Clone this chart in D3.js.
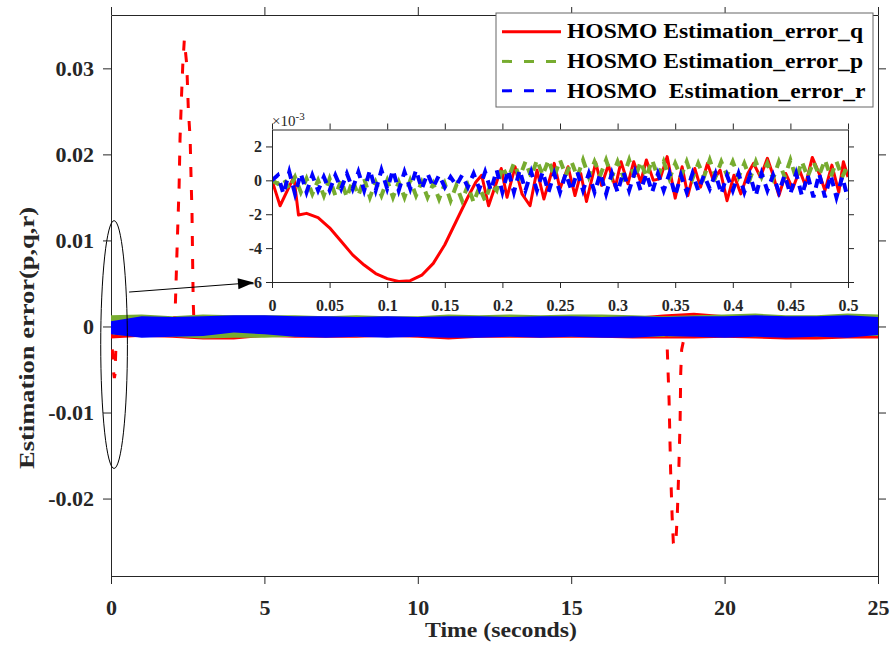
<!DOCTYPE html>
<html><head><meta charset="utf-8">
<script src="https://cdn.jsdelivr.net/npm/d3@7/dist/d3.min.js"></script>
<style>
html,body{margin:0;padding:0;background:#fff;}
svg{display:block;}
svg text{font-family:"Liberation Serif","Times New Roman",serif !important;}
</style></head>
<body>
<svg id="chart" width="893" height="646"></svg>
<script>
// ---------------- DATA ----------------
const seriesNames = ["HOSMO Estimation_error_q", "HOSMO Estimation_error_p", "HOSMO  Estimation_error_r"];
const seriesColors = ["#ff0000", "#77ac30", "#0000ff"];

const xTicks = [0, 5, 10, 15, 20, 25];
const xTickLabels = ["0", "5", "10", "15", "20", "25"];
const yTicks = [-0.02, -0.01, 0, 0.01, 0.02, 0.03];
const yTickLabels = ["-0.02", "-0.01", "0", "0.01", "0.02", "0.03"];

// main plot: envelope of the dense chattering band (x1e-3), sampled every 1 s, t = 0..25
const bandT = [0,1,2,3,4,5,6,7,8,9,10,11,12,13,14,15,16,17,18,19,20,21,22,23,24,25];
const qTop = [1.0,1.1,1.0,1.1,1.0,1.1,1.0,1.1,1.0,1.1,1.0,1.1,1.0,1.1,1.0,1.1,1.0,1.1,1.4,1.6,1.3,1.2,1.1,1.2,1.1,1.0];
const qBot = [-1.4,-1.2,-1.3,-1.5,-1.5,-1.2,-1.3,-1.3,-1.3,-1.2,-1.3,-1.5,-1.3,-1.3,-1.3,-1.3,-1.3,-1.4,-1.4,-1.4,-1.3,-1.4,-1.5,-1.5,-1.4,-1.4];
const pTop = [1.3,1.4,1.2,1.4,1.3,1.3,1.3,1.2,1.3,1.2,1.2,1.4,1.3,1.4,1.3,1.4,1.4,1.3,1.2,1.3,1.4,1.5,1.3,1.3,1.5,1.4];
const pBot = [-1.0,-1.1,-1.2,-1.4,-1.3,-1.3,-1.2,-1.1,-1.2,-1.2,-1.1,-1.1,-1.2,-1.2,-1.1,-1.2,-1.1,-1.2,-1.2,-1.1,-1.2,-1.2,-1.1,-1.2,-1.1,-1.1];
const rTop = [0.6,1.2,1.1,1.2,1.3,1.3,1.2,1.2,1.1,1.2,1.1,1.2,1.2,1.1,1.2,1.2,1.1,1.2,1.1,1.2,1.2,1.3,1.2,1.2,1.3,1.1];
const rBot = [-0.9,-1.3,-1.2,-1.1,-0.7,-0.9,-1.2,-1.3,-1.2,-1.3,-1.2,-1.3,-1.3,-1.2,-1.3,-1.2,-1.3,-1.3,-1.1,-1.2,-1.3,-1.2,-1.3,-1.2,-1.3,-1.0];

// main plot: large excursions of error_q (x1e-3)
const qDipT = [0, 0.03, 0.06, 0.09, 0.11, 0.13, 0.16, 0.19];
const qDipV = [0, -2.0, -3.6, -5.5, -6.0, -5.6, -2.4, 0];
const qSpikeT = [2.05, 2.09, 2.12, 2.17, 2.22, 2.25, 2.30, 2.34, 2.39, 2.47, 2.52, 2.58, 2.61, 2.64, 2.66, 2.68, 2.71];
const qSpikeV = [0, 1.6, 5.1, 10.9, 16.3, 21.8, 26.9, 30.4, 33.3, 30.4, 25.3, 21.8, 17.2, 13.3, 7.8, 2.8, 0];
const qDip2T = [18.10, 18.13, 18.19, 18.24, 18.29, 18.33, 18.37, 18.42, 18.46, 18.51, 18.55, 18.57, 18.60, 18.68, 18.72];
const qDip2V = [0, -2.5, -8.5, -16.7, -22.1, -25.2, -25.5, -24.5, -21.7, -16.3, -10.9, -5.4, -2.7, -1.3, 0];

// inset (zoom 0..0.5 s, x1e-3)
const insetXTicks = [0, 0.05, 0.1, 0.15, 0.2, 0.25, 0.3, 0.35, 0.4, 0.45, 0.5];
const insetXTickLabels = ["0", "0.05", "0.1", "0.15", "0.2", "0.25", "0.3", "0.35", "0.4", "0.45", "0.5"];
const insetYTicks = [-6, -4, -2, 0, 2];
const insetYTickLabels = ["-6", "-4", "-2", "0", "2"];

const insetQT = [0,0.007,0.019,0.023,0.030,0.040,0.050,0.060,0.070,0.080,0.090,0.100,0.110,0.120,0.130,0.140,0.150,0.160,0.170,0.177,0.182,0.188,0.199,0.204,0.211,0.217,0.224,0.230,0.236,0.245,0.250,0.257,0.263,0.268,0.273,0.281,0.286,0.292,0.298,0.303,0.309,0.314,0.320,0.325,0.331,0.337,0.343,0.350,0.356,0.361,0.367,0.372,0.378,0.383,0.389,0.395,0.401,0.407,0.413,0.418,0.424,0.430,0.435,0.440,0.446,0.452,0.458,0.463,0.469,0.475,0.480,0.486,0.492,0.496,0.500];
const insetQV = [0,-1.5,0.2,-2.05,-1.95,-2.2,-2.8,-3.6,-4.4,-5.0,-5.5,-5.8,-5.97,-5.92,-5.6,-4.9,-3.8,-2.4,-1.0,-0.1,0.3,-1.5,0.7,-1.0,0.8,-0.8,-1.5,0.6,-1.1,1.0,-0.5,0.8,-0.9,0.4,-1.25,1.05,-0.3,0.9,-0.4,1.1,-0.2,1.1,-0.1,1.2,0.0,0.1,1.4,-1.05,0.8,-0.9,0.7,-0.4,1.0,0.0,0.6,-1.2,0.3,-0.8,0.4,1.0,0.2,1.3,0.3,-0.9,0.4,-0.5,0.6,-0.3,1.35,0.4,-0.6,0.9,-0.7,1.1,0.2];

// p and r sampled every 0.005 s, t = 0..0.5
const insetPV = [0,-0.2,0.1,-0.5,0.2,-0.7,0.1,-0.8,0.0,-0.9,0.1,-0.9,0.0,-1.0,0.0,-0.9,0.1,-1.0,-0.1,-0.9,
  0.0,-1.0,-0.1,-1.0,0.0,-0.9,-0.1,-1.0,-0.2,-1.1,-0.2,-1.2,-0.3,-1.2,-0.3,-1.3,-0.4,-1.2,-0.2,-0.6,
  0.8,0.1,1.0,0.2,1.1,0.2,1.2,0.3,1.2,0.2,1.2,0.3,1.1,0.2,1.2,0.2,1.1,0.3,1.2,0.2,
  1.1,0.2,1.2,0.1,1.1,0.2,1.2,0.2,1.1,0.1,1.0,0.2,1.1,0.1,1.0,0.2,1.2,0.2,1.1,0.3,
  1.1,0.2,1.0,0.1,1.1,0.2,1.0,0.1,1.1,0.2,1.2,0.1,1.1,0.2,1.1,0.3,1.2,0.2,1.1,0.2,0.9];
const insetRV = [0,0.3,-0.8,0.5,-0.8,0.4,-0.7,0.3,-0.6,0.2,-0.6,0.3,-0.5,0.4,-0.5,0.5,-0.6,0.6,-0.6,0.6,
  -0.5,0.6,-0.6,0.5,-0.5,0.6,-0.5,0.4,-0.4,0.3,-0.4,0.2,-0.3,0.3,-0.4,0.4,-0.5,0.5,-0.6,0.6,
  -0.7,0.6,-0.7,0.6,-0.6,0.5,-0.6,0.5,-0.7,0.4,-0.7,0.4,-0.6,0.5,-0.6,0.4,-0.7,0.4,-0.8,0.4,
  -0.7,0.5,-0.6,0.5,-0.6,0.4,-0.7,0.4,-0.6,0.4,-0.9,0.3,-0.7,0.4,-0.6,0.3,-0.5,0.4,-0.8,0.3,
  -0.6,0.4,-0.7,0.3,-0.9,0.4,-0.6,0.3,-0.7,0.3,-0.8,0.4,-0.9,0.3,-1.0,0.4,-1.0,0.3,-1.0,0.2,-1.1];
const insetStep = 0.005;

// annotation (data units of the main axes)
const ellipseC = {t: 0.1, v: -0.0021};
const ellipseHalf = {t: 0.435, v: 0.0144};
const arrowFrom = {t: 0.59, v: 0.0040};
const arrowTo = {t: 4.66, v: 0.0051};

// ---------------- DRAW ----------------
const svg = d3.select("#chart");
const AX = "#262626";
const FONT = '"Liberation Serif","Times New Roman",serif';

const M = {l: 111, r: 878, t: 15, b: 576};
const x = d3.scaleLinear().domain([0, 25]).range([M.l, M.r]);
const y = d3.scaleLinear().domain([-0.029, 0.0362]).range([M.b, M.t]);

svg.append("defs").append("clipPath").attr("id", "mainclip")
  .append("rect").attr("x", M.l).attr("y", M.t).attr("width", M.r - M.l).attr("height", M.b - M.t);

function styleAxis(g, fs) {
  g.attr("font-family", null);
  g.selectAll("path.domain").attr("stroke", AX).attr("stroke-width", 1);
  g.selectAll(".tick line").attr("stroke", AX).attr("stroke-width", 1);
  g.selectAll(".tick text").style("font-family", FONT).style("font-weight", "bold")
    .style("font-size", fs + "px").attr("fill", AX);
}

// main axes
const gx = svg.append("g").attr("transform", `translate(0,${M.b})`)
  .call(d3.axisBottom(x).tickValues(xTicks).tickSize(8).tickSizeOuter(0).tickPadding(15)
    .tickFormat((d, i) => xTickLabels[i]));
styleAxis(gx, 22);
gx.selectAll(".tick text").attr("dy", "0.71em");
const gxt = svg.append("g").attr("transform", `translate(0,${M.t})`)
  .call(d3.axisTop(x).tickValues(xTicks).tickSize(8).tickSizeOuter(0).tickFormat(""));
styleAxis(gxt, 22);
const gy = svg.append("g").attr("transform", `translate(${M.l},0)`)
  .call(d3.axisLeft(y).tickValues(yTicks).tickSize(8).tickSizeOuter(0).tickPadding(9)
    .tickFormat((d, i) => yTickLabels[i]));
styleAxis(gy, 22);
const gyr = svg.append("g").attr("transform", `translate(${M.r},0)`)
  .call(d3.axisRight(y).tickValues(yTicks).tickSize(8).tickSizeOuter(0).tickFormat(""));
styleAxis(gyr, 22);

// axis titles
svg.append("text").attr("x", 501).attr("y", 637).attr("text-anchor", "middle")
  .style("font-size", "22px").style("font-weight", "bold").attr("fill", AX)
  .attr("textLength", 152).attr("lengthAdjust", "spacingAndGlyphs").text("Time (seconds)");
svg.append("text").attr("transform", "translate(34,338) rotate(-90)").attr("text-anchor", "middle")
  .style("font-size", "22px").style("font-weight", "bold").attr("fill", AX)
  .attr("textLength", 262).attr("lengthAdjust", "spacingAndGlyphs").text("Estimation error(p,q,r)");

// main data
const plot = svg.append("g").attr("clip-path", "url(#mainclip)");
function band(top, bot) {
  return bandT.map((t, i) => ({t, hi: top[i] * 1e-3, lo: bot[i] * 1e-3}));
}
const areaGen = d3.area().x(d => x(d.t)).y0(d => y(d.lo)).y1(d => y(d.hi));
const lineMain = d3.line().x(d => x(d.t)).y(d => y(d.v));
function pts(T, V) { return T.map((t, i) => ({t, v: V[i] * 1e-3})); }

plot.append("path").attr("d", areaGen(band(qTop, qBot))).attr("fill", seriesColors[0]);
plot.append("path").attr("d", areaGen(band(pTop, pBot))).attr("fill", seriesColors[1]);
[[qDipT, qDipV], [qSpikeT, qSpikeV], [qDip2T, qDip2V]].forEach(([T, V]) => {
  plot.append("path").attr("d", lineMain(pts(T, V))).attr("fill", "none")
    .attr("stroke", seriesColors[0]).attr("stroke-width", 3).attr("stroke-dasharray", "10,13");
});
plot.append("path").attr("d", areaGen(band(rTop, rBot))).attr("fill", seriesColors[2]);

// ellipse + arrow
svg.append("ellipse").attr("cx", x(ellipseC.t)).attr("cy", y(ellipseC.v))
  .attr("rx", x(ellipseC.t + ellipseHalf.t) - x(ellipseC.t))
  .attr("ry", y(ellipseC.v) - y(ellipseC.v + ellipseHalf.v))
  .attr("fill", "none").attr("stroke", "#000").attr("stroke-width", 1);
const ax0 = x(arrowFrom.t), ay0 = y(arrowFrom.v), ax1 = x(arrowTo.t), ay1 = y(arrowTo.v);
const ang = Math.atan2(ay1 - ay0, ax1 - ax0);
const hl = 16, hw = 5.5;
const bx = ax1 - hl * Math.cos(ang), by = ay1 - hl * Math.sin(ang);
svg.append("line").attr("x1", ax0).attr("y1", ay0).attr("x2", bx).attr("y2", by)
  .attr("stroke", "#000").attr("stroke-width", 1);

// ---------------- INSET ----------------
const I = {l: 272, r: 848, t: 129.5, b: 282};
const ix = d3.scaleLinear().domain([0, 0.5]).range([I.l, I.r]);
const iy = d3.scaleLinear().domain([-6, 3]).range([I.b, I.t]);
svg.append("rect").attr("x", I.l).attr("y", I.t).attr("width", I.r - I.l).attr("height", I.b - I.t)
  .attr("fill", "#fff");
svg.select("defs").append("clipPath").attr("id", "insetclip")
  .append("rect").attr("x", I.l).attr("y", I.t - 2).attr("width", I.r - I.l).attr("height", I.b - I.t + 4);

const ig = svg.append("g").attr("clip-path", "url(#insetclip)");
const lineI = d3.line().x(d => ix(d.t)).y(d => iy(d.v));
const pI = insetPV.map((v, i) => ({t: i * insetStep, v}));
const rI = insetRV.map((v, i) => ({t: i * insetStep, v}));
const qI = insetQT.map((t, i) => ({t, v: insetQV[i]}));
ig.append("path").attr("d", lineI(qI)).attr("fill", "none").attr("stroke", seriesColors[0])
  .attr("stroke-width", 3).attr("stroke-linejoin", "round");
ig.append("path").attr("d", lineI(pI)).attr("fill", "none").attr("stroke", seriesColors[1])
  .attr("stroke-width", 4).attr("stroke-dasharray", "9,7");
ig.append("path").attr("d", lineI(rI)).attr("fill", "none").attr("stroke", seriesColors[2])
  .attr("stroke-width", 4).attr("stroke-dasharray", "9,7");

const igx = svg.append("g").attr("transform", `translate(0,${I.b})`)
  .call(d3.axisBottom(ix).tickValues(insetXTicks).tickSize(6).tickSizeOuter(0).tickPadding(12)
    .tickFormat((d, i) => insetXTickLabels[i]));
styleAxis(igx, 16);
igx.selectAll(".tick text").attr("dy", "0.71em");
const igxt = svg.append("g").attr("transform", `translate(0,${I.t})`)
  .call(d3.axisTop(ix).tickValues(insetXTicks).tickSize(6).tickSizeOuter(0).tickFormat(""));
styleAxis(igxt, 16);
const igy = svg.append("g").attr("transform", `translate(${I.l},0)`)
  .call(d3.axisLeft(iy).tickValues(insetYTicks).tickSize(6).tickSizeOuter(0).tickPadding(4)
    .tickFormat((d, i) => insetYTickLabels[i]));
styleAxis(igy, 16);
const igyr = svg.append("g").attr("transform", `translate(${I.r},0)`)
  .call(d3.axisRight(iy).tickValues(insetYTicks).tickSize(6).tickSizeOuter(0).tickFormat(""));
styleAxis(igyr, 16);

const expo = svg.append("text").attr("x", I.l).attr("y", 126).style("font-size", "15px").attr("fill", AX);
expo.append("tspan").text("\u00d710");
expo.append("tspan").style("font-size", "11px").attr("dy", -6).text("-3");

// arrow head drawn last (it overlaps the -6 label as in the figure)
svg.append("path").attr("d",
  `M${ax1},${ay1} L${bx - hw * Math.sin(ang)},${by + hw * Math.cos(ang)} L${bx + hw * Math.sin(ang)},${by - hw * Math.cos(ang)} Z`)
  .attr("fill", "#000");

// ---------------- LEGEND ----------------
const L = {x: 496, y: 13, w: 377, h: 94};
svg.append("rect").attr("x", L.x).attr("y", L.y).attr("width", L.w).attr("height", L.h)
  .attr("fill", "#fff").attr("stroke", "#666").attr("stroke-width", 1);
const rowsY = [31.7, 61.4, 90.8];
const dashes = [null, "10,12", "10,12"];
const textLens = [296, 296, 298.5];
seriesNames.forEach((name, i) => {
  const ln = svg.append("line").attr("x1", 502).attr("x2", 561).attr("y1", rowsY[i]).attr("y2", rowsY[i])
    .attr("stroke", seriesColors[i]).attr("stroke-width", 3);
  if (dashes[i]) ln.attr("stroke-dasharray", dashes[i]);
  svg.append("text").attr("x", 567).attr("y", rowsY[i] + 6.7).style("font-size", "20px").style("font-weight", "bold")
    .attr("fill", "#000").style("white-space", "pre")
    .attr("textLength", textLens[i]).attr("lengthAdjust", "spacingAndGlyphs").text(name);
});
</script>
</body></html>
